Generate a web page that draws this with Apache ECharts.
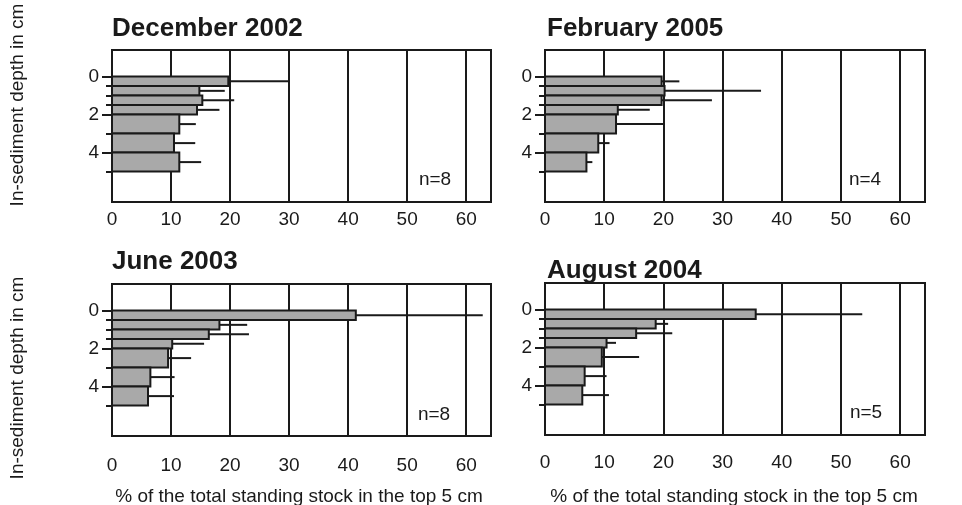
<!DOCTYPE html>
<html>
<head>
<meta charset="utf-8">
<script src="https://cdn.jsdelivr.net/npm/echarts@6/dist/echarts.min.js"></script>
<style>
html,body{margin:0;padding:0;background:#fff;}
#c{width:962px;height:505px;}
</style>
</head>
<body>
<div id="c"></div>
<script>
// Depth intervals (cm)
const depthTop = [0, 0.5, 1, 1.5, 2, 3, 4];
const depthBottom = [0.5, 1, 1.5, 2, 3, 4, 5];
const depthTickMinor = [0, 0.5, 1, 1.5, 2, 3, 4, 5];
const depthTickMajor = [0, 2, 4];
const xTickLabels = [0, 10, 20, 30, 40, 50, 60];

const panelTitles = ['December 2002', 'February 2005', 'June 2003', 'August 2004'];
const panelN = ['n=8', 'n=4', 'n=8', 'n=5'];

// % of total standing stock (mean) and error (+SD)
const dec2002 = [19.7, 14.8, 15.3, 14.4, 11.4, 10.5, 11.4];
const dec2002Err = [10.3, 4.3, 5.4, 3.8, 2.8, 3.6, 3.7];
const feb2005 = [19.7, 20.2, 19.7, 12.3, 12.0, 9.0, 7.0];
const feb2005Err = [3.0, 16.3, 8.5, 5.4, 8.0, 1.9, 1.0];
const jun2003 = [41.3, 18.2, 16.4, 10.2, 9.5, 6.5, 6.1];
const jun2003Err = [21.5, 4.7, 6.8, 5.4, 3.9, 4.1, 4.4];
const aug2004 = [35.6, 18.7, 15.4, 10.4, 9.6, 6.7, 6.3];
const aug2004Err = [18.0, 2.1, 6.1, 1.6, 6.3, 3.7, 4.5];

const yTitle = 'In-sediment depth in cm';
const xTitle = '% of the total standing stock in the top 5 cm';

const panels = [
  {vals: dec2002, err: dec2002Err},
  {vals: feb2005, err: feb2005Err},
  {vals: jun2003, err: jun2003Err},
  {vals: aug2004, err: aug2004Err}
];

const FONT = '"Liberation Sans", Arial, sans-serif';
const INK = '#1a1a1a';

const grids = [
  {left: 112, top: 50, width: 379, height: 152},
  {left: 545, top: 50, width: 380, height: 152},
  {left: 112, top: 284, width: 379, height: 152},
  {left: 545, top: 283, width: 380, height: 152}
];
const labelMargins = [8, 8, 20, 18];

function renderItem(params, api) {
  const v = api.value(0), e = api.value(1), d0 = api.value(2), d1 = api.value(3);
  const p0 = api.coord([0, d0]);
  const p1 = api.coord([v, d1]);
  const mid = (d0 + d1) / 2;
  const pm = api.coord([v, mid]);
  const pe = api.coord([v + e, mid]);
  return {
    type: 'group',
    children: [
      {type: 'line', shape: {x1: pm[0], y1: pm[1], x2: pe[0], y2: pe[1]},
       style: {stroke: INK, lineWidth: 2}},
      {type: 'rect', shape: {x: p0[0], y: p0[1], width: p1[0] - p0[0], height: p1[1] - p0[1]},
       style: {fill: '#a9a9a9', stroke: INK, lineWidth: 2}}
    ]
  };
}

const option = {
  animation: false,
  backgroundColor: '#fff',
  grid: grids.map(g => Object.assign({show: true, borderColor: INK, borderWidth: 2, backgroundColor: 'transparent', containLabel: false}, g)),
  xAxis: grids.map((g, i) => ({
    type: 'value', gridIndex: i, min: 0, max: 64.2, interval: 10, position: 'bottom',
    axisLine: {show: true, onZero: false, lineStyle: {color: INK, width: 2}},
    axisTick: {show: false},
    splitLine: {show: true, lineStyle: {color: INK, width: 2}},
    axisLabel: {customValues: xTickLabels, color: INK, fontFamily: FONT, fontSize: 19, margin: labelMargins[i]}
  })),
  yAxis: [].concat(...grids.map((g, i) => ([
    {
      type: 'value', gridIndex: i, inverse: true, min: -1.4, max: 6.6, position: 'left', offset: 0,
      axisLine: {show: true, onZero: false, lineStyle: {color: INK, width: 2}},
      axisTick: {show: true, customValues: depthTickMinor, length: 6, lineStyle: {color: INK, width: 2}},
      axisLabel: {customValues: depthTickMajor, color: INK, fontFamily: FONT, fontSize: 19, margin: 13},
      splitLine: {show: false}
    },
    {
      type: 'value', gridIndex: i, inverse: true, min: -1.4, max: 6.6, position: 'left', offset: 0,
      axisLine: {show: false, onZero: false},
      axisTick: {show: true, customValues: depthTickMajor, length: 10, lineStyle: {color: INK, width: 2}},
      axisLabel: {show: false},
      splitLine: {show: false}
    }
  ]))),
  series: panels.map((p, i) => ({
    type: 'custom',
    xAxisIndex: i,
    yAxisIndex: i * 2,
    renderItem: renderItem,
    encode: {x: 0, y: 2},
    data: p.vals.map((v, k) => [v, p.err[k], depthTop[k], depthBottom[k]])
  })),
  graphic: [
    {type: 'text', left: 112, top: 16, style: {text: panelTitles[0], font: 'bold 26px ' + FONT, fill: INK}},
    {type: 'text', left: 547, top: 16, style: {text: panelTitles[1], font: 'bold 26px ' + FONT, fill: INK}},
    {type: 'text', left: 112, top: 249, style: {text: panelTitles[2], font: 'bold 26px ' + FONT, fill: INK}},
    {type: 'text', left: 547, top: 258, style: {text: panelTitles[3], font: 'bold 26px ' + FONT, fill: INK}},
    {type: 'text', x: 435, y: 180, style: {text: panelN[0], font: '19px ' + FONT, fill: INK, align: 'center', verticalAlign: 'middle'}},
    {type: 'text', x: 865, y: 180, style: {text: panelN[1], font: '19px ' + FONT, fill: INK, align: 'center', verticalAlign: 'middle'}},
    {type: 'text', x: 434, y: 415, style: {text: panelN[2], font: '19px ' + FONT, fill: INK, align: 'center', verticalAlign: 'middle'}},
    {type: 'text', x: 866, y: 413, style: {text: panelN[3], font: '19px ' + FONT, fill: INK, align: 'center', verticalAlign: 'middle'}},
    {type: 'text', x: 18, y: 105, rotation: Math.PI / 2, style: {text: yTitle, font: '19px ' + FONT, fill: INK, align: 'center', verticalAlign: 'middle'}},
    {type: 'text', x: 18, y: 378, rotation: Math.PI / 2, style: {text: yTitle, font: '19px ' + FONT, fill: INK, align: 'center', verticalAlign: 'middle'}},
    {type: 'text', x: 299, y: 497, style: {text: xTitle, font: '19px ' + FONT, fill: INK, align: 'center', verticalAlign: 'middle'}},
    {type: 'text', x: 734, y: 497, style: {text: xTitle, font: '19px ' + FONT, fill: INK, align: 'center', verticalAlign: 'middle'}}
  ]
};

const chart = echarts.init(document.getElementById('c'), null, {renderer: 'canvas'});
chart.setOption(option);
</script>
</body>
</html>
